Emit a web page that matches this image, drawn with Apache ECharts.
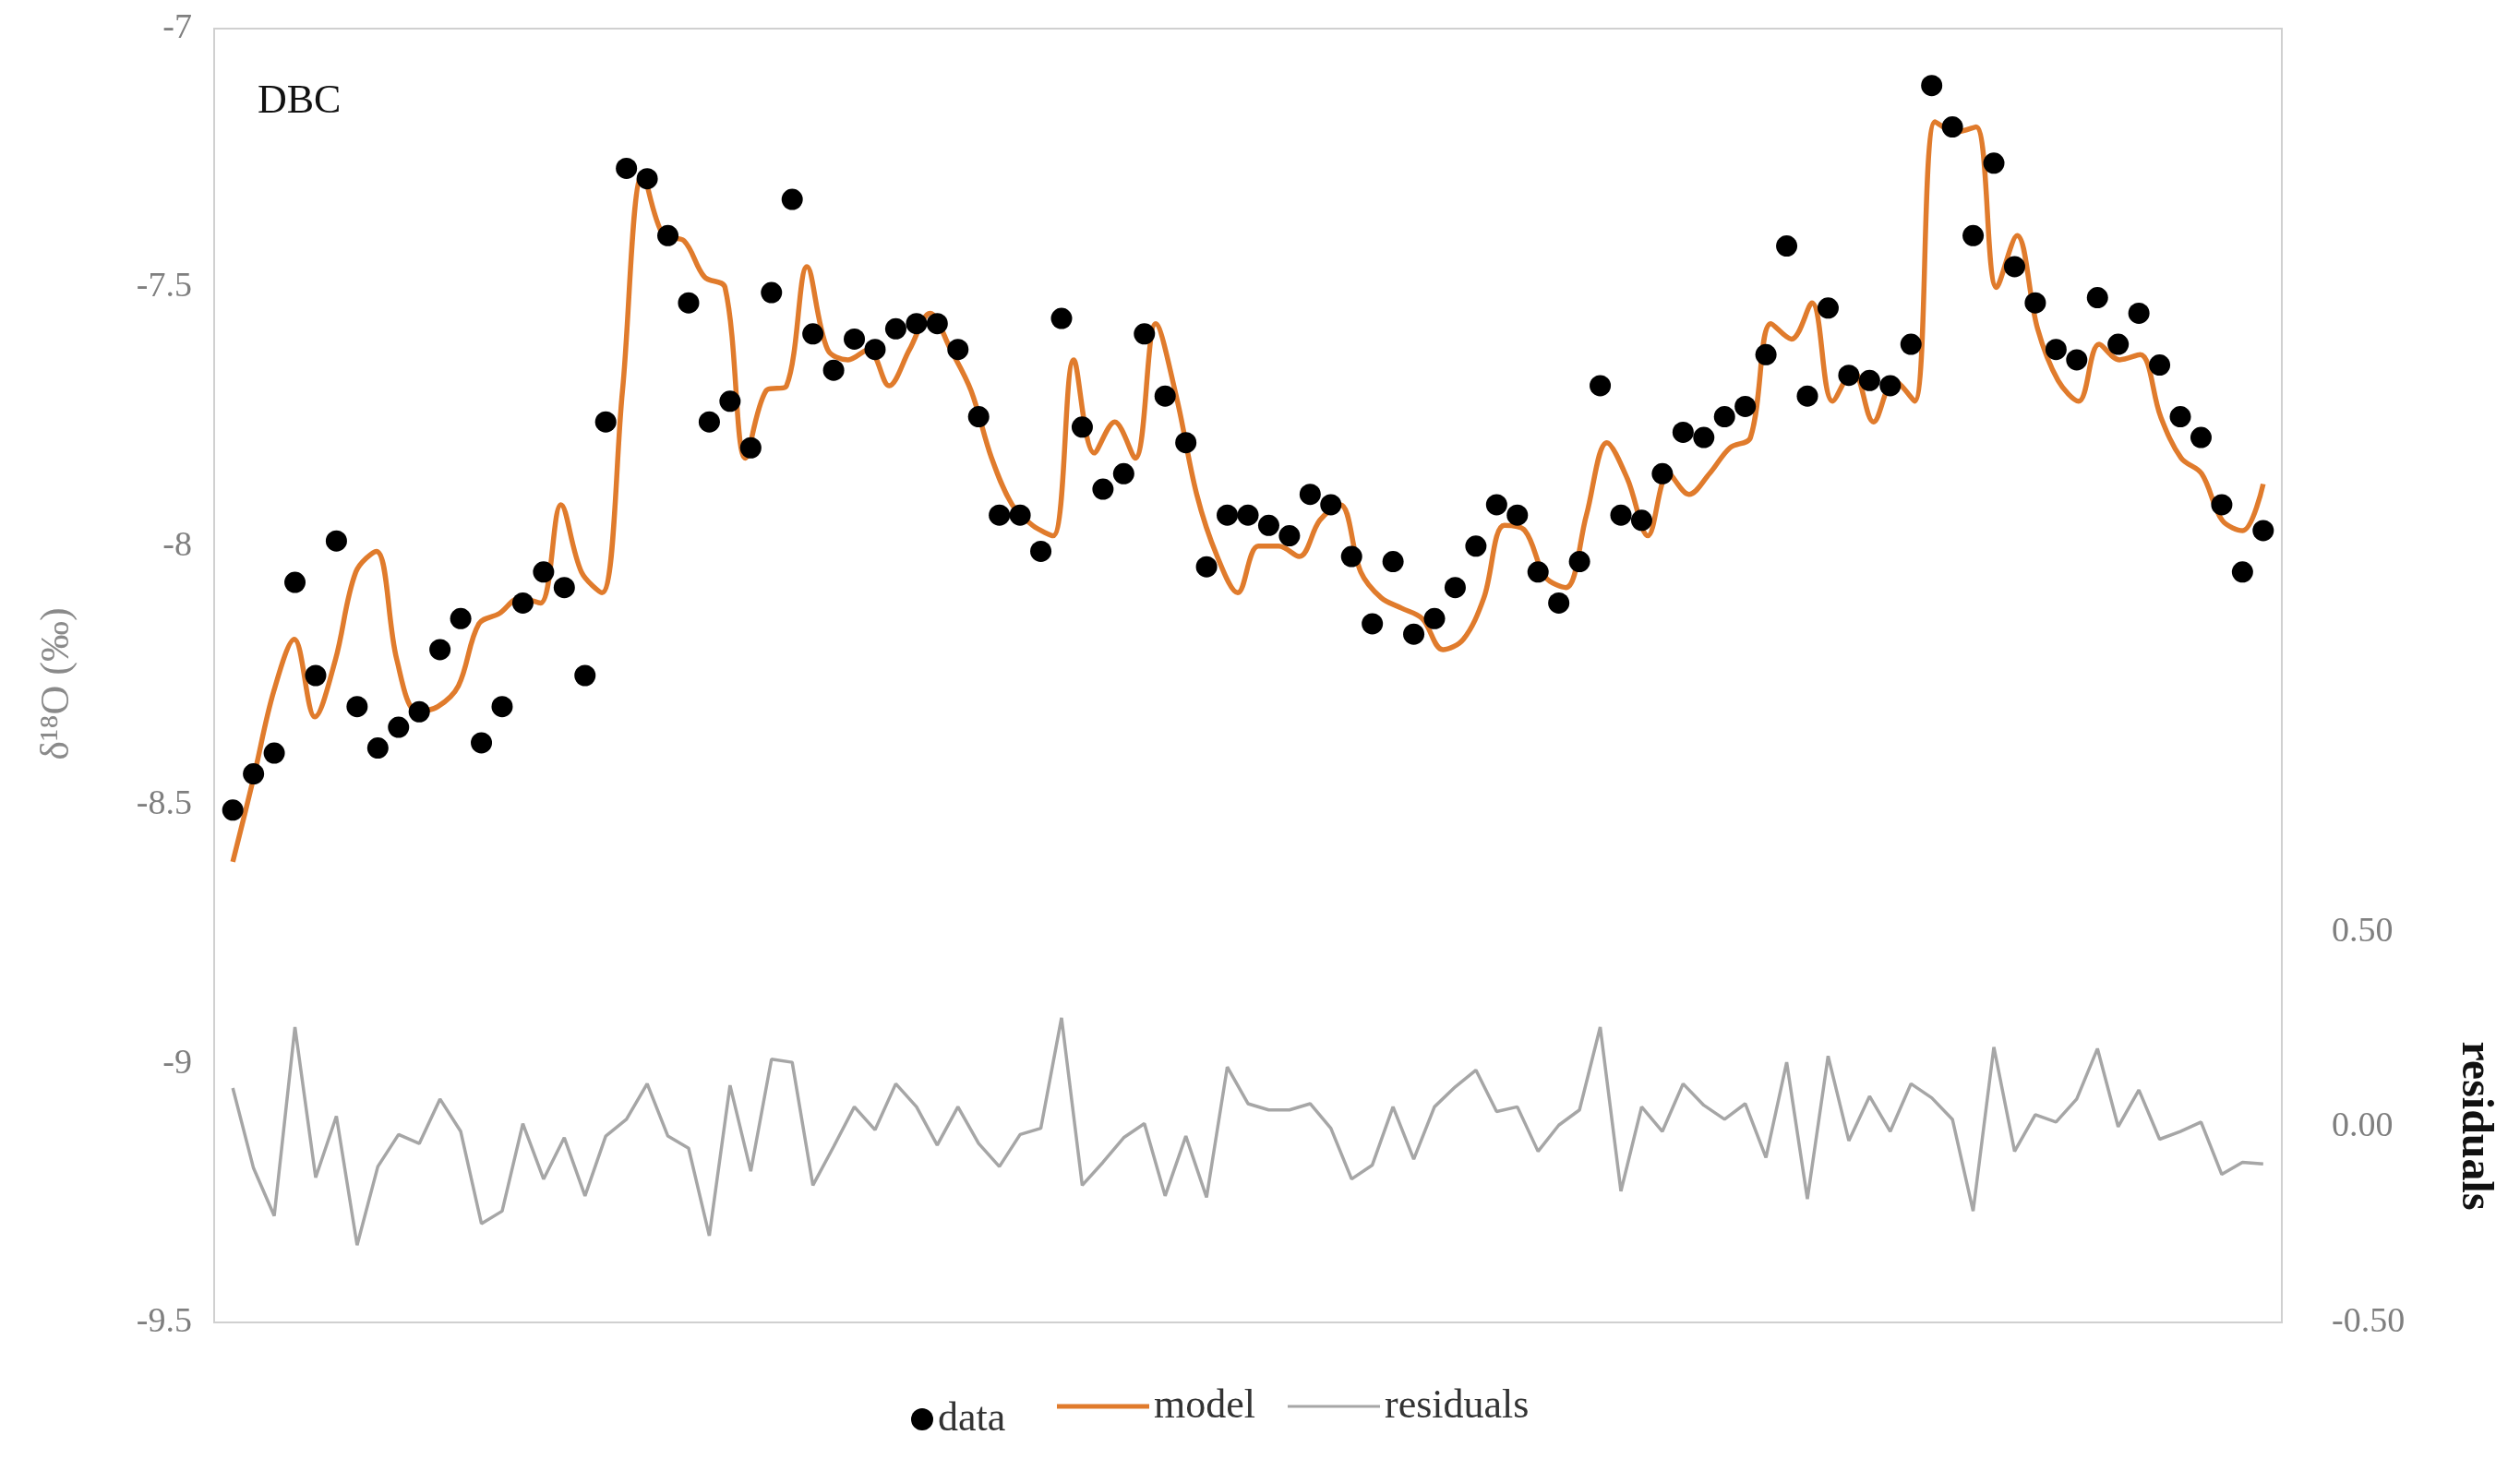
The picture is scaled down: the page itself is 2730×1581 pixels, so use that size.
<!DOCTYPE html>
<html><head><meta charset="utf-8">
<script src="https://cdn.jsdelivr.net/npm/echarts@6/dist/echarts.min.js"></script>
<style>html,body{margin:0;padding:0;background:#fff}#c{width:2730px;height:1581px}</style>
</head><body><div id="c"></div>
<script>
const dataValues = [-8.51,-8.44,-8.40,-8.07,-8.25,-7.99,-8.31,-8.39,-8.35,-8.32,-8.20,-8.14,-8.38,-8.31,-8.11,-8.05,-8.08,-8.25,-7.76,-7.27,-7.29,-7.40,-7.53,-7.76,-7.72,-7.81,-7.51,-7.33,-7.59,-7.66,-7.60,-7.62,-7.58,-7.57,-7.57,-7.62,-7.75,-7.94,-7.94,-8.01,-7.56,-7.77,-7.89,-7.86,-7.59,-7.71,-7.80,-8.04,-7.94,-7.94,-7.96,-7.98,-7.90,-7.92,-8.02,-8.15,-8.03,-8.17,-8.14,-8.08,-8.00,-7.92,-7.94,-8.05,-8.11,-8.03,-7.69,-7.94,-7.95,-7.86,-7.78,-7.79,-7.75,-7.73,-7.63,-7.42,-7.71,-7.54,-7.67,-7.68,-7.69,-7.61,-7.11,-7.19,-7.40,-7.26,-7.46,-7.53,-7.62,-7.64,-7.52,-7.61,-7.55,-7.65,-7.75,-7.79,-7.92,-8.05,-7.97];
const modelValues = [-8.61,-8.45,-8.28,-8.18,-8.33,-8.22,-8.05,-8.01,-8.22,-8.32,-8.31,-8.27,-8.15,-8.13,-8.10,-8.11,-7.92,-8.05,-8.09,-7.70,-7.28,-7.40,-7.41,-7.48,-7.50,-7.83,-7.70,-7.69,-7.46,-7.62,-7.64,-7.62,-7.69,-7.62,-7.55,-7.62,-7.70,-7.83,-7.92,-7.96,-7.98,-7.64,-7.82,-7.76,-7.83,-7.57,-7.71,-7.90,-8.02,-8.09,-8.00,-8.00,-8.02,-7.95,-7.92,-8.05,-8.10,-8.12,-8.14,-8.20,-8.18,-8.10,-7.96,-7.97,-8.06,-8.08,-7.94,-7.80,-7.87,-7.98,-7.86,-7.90,-7.86,-7.81,-7.79,-7.57,-7.60,-7.53,-7.72,-7.66,-7.76,-7.68,-7.72,-7.18,-7.20,-7.19,-7.50,-7.40,-7.58,-7.68,-7.72,-7.61,-7.64,-7.63,-7.75,-7.83,-7.86,-7.95,-7.97,-7.88];
const residualValues = [0.100,-0.105,-0.227,0.256,-0.129,0.028,-0.302,-0.101,-0.019,-0.042,0.072,-0.011,-0.247,-0.215,0.009,-0.133,-0.027,-0.176,-0.023,0.020,0.111,-0.023,-0.054,-0.278,0.107,-0.113,0.174,0.166,-0.149,-0.050,0.052,-0.007,0.111,0.052,-0.046,0.052,-0.042,-0.101,-0.019,-0.003,0.280,-0.149,-0.090,-0.027,0.009,-0.176,-0.023,-0.180,0.154,0.060,0.044,0.044,0.060,-0.003,-0.133,-0.097,0.052,-0.082,0.052,0.103,0.146,0.040,0.052,-0.062,0.005,0.044,0.256,-0.164,0.052,-0.011,0.111,0.056,0.020,0.060,-0.078,0.166,-0.184,0.182,-0.035,0.079,-0.011,0.111,0.075,0.020,-0.215,0.205,-0.062,0.032,0.013,0.072,0.201,0.001,0.095,-0.031,-0.011,0.013,-0.121,-0.090,-0.094];
const leftTicks = [-9.5,-9,-8.5,-8,-7.5,-7];
const rightTickLabels = [-0.5,0,0.5];

const toPairs = (arr, n) => arr.map((v,i)=>[i*(n-1)/(arr.length-1), v]);
const N = dataValues.length;
const serif = 'Liberation Serif';
const legText = {fontFamily:serif,fontSize:44,color:'#333'};
const chart = echarts.init(document.getElementById('c'));
chart.setOption({
  animation:false,
  grid:{left:232,right:258,top:31,bottom:148,show:true,borderColor:'#d0d0d0',borderWidth:2},
  legend:[
    {left:982,bottom:16,itemWidth:24,itemHeight:24,itemGap:6,textStyle:legText,data:[{name:'data',icon:'circle'}]},
    {left:1140,bottom:30,itemWidth:100,itemHeight:5,itemGap:6,textStyle:Object.assign({},legText,{padding:[0,0,0,0]}),data:[{name:'model',icon:'rect'}]},
    {left:1390,bottom:30,itemWidth:100,itemHeight:3,itemGap:6,textStyle:legText,data:[{name:'residuals',icon:'rect'}]}
  ],
  xAxis:{type:'value',min:-0.9,max:N-1+0.9,show:false},
  yAxis:[
    {type:'value',min:-9.5,max:-7,interval:0.5,position:'left',
     axisLine:{show:false},axisTick:{show:false},splitLine:{show:false},
     axisLabel:{fontFamily:serif,fontSize:38,color:'#7f7f7f',margin:24,
       formatter:v=>leftTicks.includes(v)?String(v):''}},
    {type:'value',min:-0.5,max:2.8125,interval:0.5,position:'right',
     axisLine:{show:false},axisTick:{show:false},splitLine:{show:false},
     axisLabel:{fontFamily:serif,fontSize:38,color:'#7f7f7f',margin:54,
       formatter:v=>rightTickLabels.some(t=>Math.abs(t-v)<1e-9)?v.toFixed(2):''}}
  ],
  graphic:[
    {type:'text',left:279,top:88,style:{text:'DBC',font:'44px "Liberation Serif"',fill:'#111'}},
    {type:'text',x:62,y:741,rotation:Math.PI/2,style:{text:'δ¹⁸O (‰)',font:'44px "Liberation Serif"',fill:'#8a8a8a',textAlign:'center',textVerticalAlign:'middle'}},
    {type:'text',x:2680,y:1220,rotation:-Math.PI/2,style:{text:'residuals',font:'bold 48px "Liberation Serif"',fill:'#111',textAlign:'center',textVerticalAlign:'middle'}}
  ],
  series:[
    {name:'residuals',type:'line',yAxisIndex:1,data:toPairs(residualValues,N),symbol:'none',
     lineStyle:{color:'#a6a6a6',width:3.5},itemStyle:{color:'#a6a6a6'}},
    {name:'model',type:'line',data:toPairs(modelValues,N),symbol:'none',smooth:0.35,
     lineStyle:{color:'#e07b2c',width:5.5},itemStyle:{color:'#e07b2c'}},
    {name:'data',type:'scatter',data:toPairs(dataValues,N),symbolSize:23,itemStyle:{color:'#000',opacity:1},z:5}
  ]
});
</script></body></html>
